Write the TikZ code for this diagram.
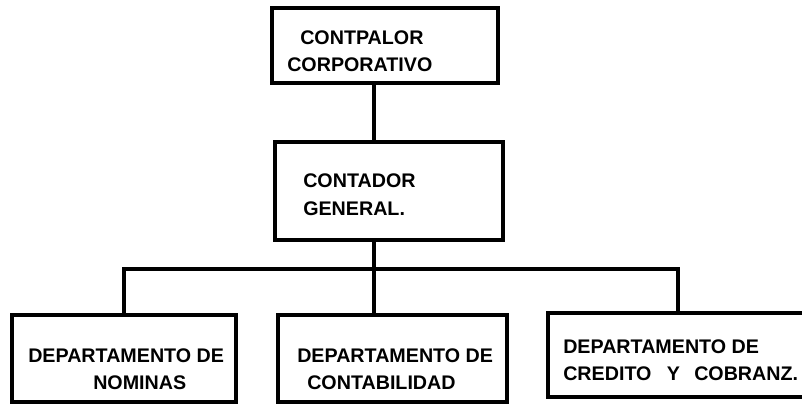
\documentclass[tikz,border=0pt]{standalone}
\usepackage{fontspec}
\setmainfont{Liberation Sans}

\tikzset{
  orgbox/.style={draw, line width=3pt, inner sep=0pt, outer sep=0pt},
  orgtext/.style={align=left, inner sep=0pt, anchor=west,
                  font=\bfseries\fontsize{14pt}{19.5pt}\selectfont},
  orgline/.style={line width=3pt}
}

\begin{document}
\begin{tikzpicture}[x=0.025cm,y=-0.025cm]
  \useasboundingbox (0,0) rectangle (802,406);
  \clip (0,0) rectangle (802,406);

  \node[orgbox, minimum width=5.65cm, minimum height=1.875cm,
        label={[orgtext, xshift=0.375cm, yshift=-0.15cm]west:{\hspace*{0.325cm}CONTPALOR\\CORPORATIVO}}]
        (contralor) at (385,45.5) {};
  \node[orgbox, minimum width=5.7cm, minimum height=2.45cm,
        label={[orgtext, xshift=0.7cm, yshift=-0.09cm]west:{CONTADOR\\GENERAL.}}]
        (contador) at (389,191) {};

  \node[orgbox, minimum width=5.6cm, minimum height=2.175cm,
        label={[orgtext, xshift=0.4cm, yshift=-0.275cm]west:{DEPARTAMENTO DE\\\hspace*{1.625cm}NOMINAS}}]
        (nominas) at (124,358.5) {};
  \node[orgbox, minimum width=5.725cm, minimum height=2.175cm,
        label={[orgtext, xshift=0.475cm, yshift=-0.275cm]west:{DEPARTAMENTO DE\\\hspace*{0.25cm}CONTABILIDAD}}]
        (contabilidad) at (392.5,358.5) {};
  \node[orgbox, minimum width=6.5cm, minimum height=2.1cm,
        label={[orgtext, xshift=0.375cm, yshift=-0.125cm]west:{DEPARTAMENTO DE\\CREDITO\hspace{0.5em} Y\hspace{0.45em} COBRANZ.}}]
        (credito) at (678,355) {};

  \coordinate (bus) at (374,269);
  \draw[orgline] (bus |- contralor.south) -- (bus |- contador.north);
  \draw[orgline] (bus |- contador.south) -- (bus);
  \draw[orgline] (nominas.north) |- (bus) -| (credito.north);
  \draw[orgline] (bus) -- (bus |- contabilidad.north);
\end{tikzpicture}
\end{document}
